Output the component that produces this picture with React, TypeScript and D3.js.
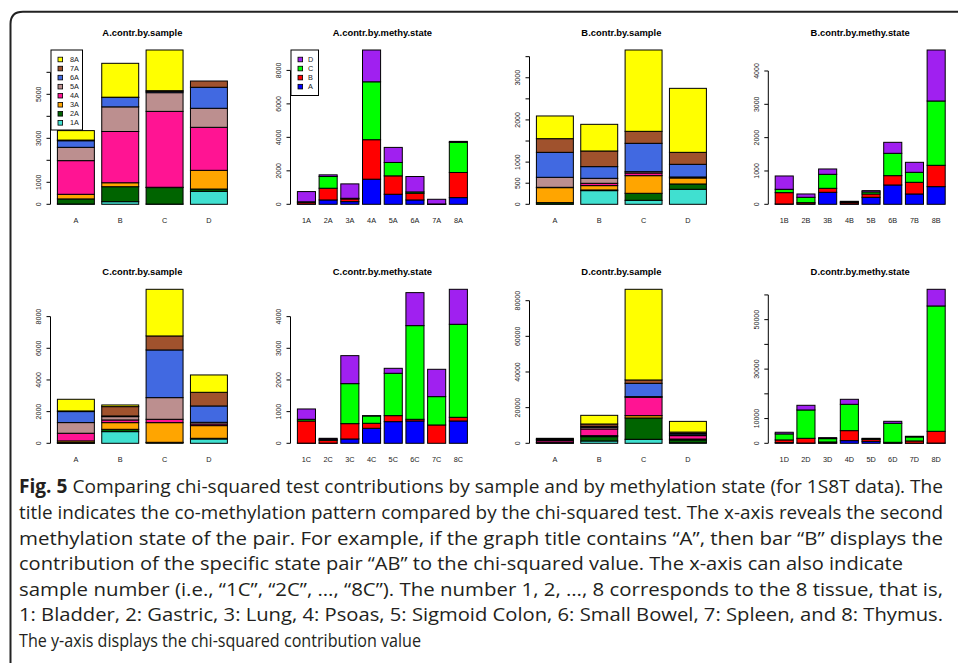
import React from "react";
import * as d3 from "d3";

// samples (x-axis of the "by.sample" panels) and stacked tissue states 1..8
const samples = ["A", "B", "C", "D"];
const tissueColors = ["#40E0D0", "#006400", "#FFA500", "#FF1493", "#BC8F8F", "#4169E1", "#A0522D", "#FFFF00"];
// methylation states stacked in the "by.methy.state" panels
const methyStates = ["A", "B", "C", "D"];
const methyColors = ["#0000FF", "#FF0000", "#00FF00", "#A020F0"];

// A.contr.by.sample: one row per bar (A..D), values for 1A..8A from bottom
const aBySample = [
  [15, 230, 210, 1530, 605, 300, 30, 430],
  [120, 680, 180, 2330, 1120, 425, 15, 1540],
  [10, 750, 15, 3450, 850, 60, 30, 1850],
  [590, 105, 850, 1955, 865, 955, 285, 0],
];
// A.contr.by.methy.state: one row per bar (1A..8A), values for A, B, C, D
const aByState = [
  [20, 100, 30, 610],
  [260, 700, 700, 100],
  [160, 160, 40, 860],
  [1500, 2360, 3460, 1900],
  [600, 1100, 800, 900],
  [260, 400, 80, 920],
  [5, 10, 5, 280],
  [400, 1500, 1800, 60],
];
const bBySample = [
  [5, 35, 355, 8, 237, 592, 324, 538],
  [324, 16, 103, 55, 118, 277, 371, 632],
  [95, 166, 418, 63, 32, 672, 284, 1928],
  [356, 126, 142, 16, 8, 300, 284, 1517],
];
const bByState = [
  [10, 340, 100, 400],
  [10, 40, 160, 100],
  [360, 120, 420, 160],
  [10, 40, 20, 20],
  [210, 100, 60, 40],
  [580, 280, 670, 330],
  [310, 350, 300, 300],
  [530, 640, 1930, 1530],
];
const cBySample = [
  [5, 40, 105, 485, 673, 695, 40, 737],
  [737, 147, 421, 169, 210, 42, 590, 105],
  [42, 21, 1242, 211, 1368, 3011, 884, 2946],
  [274, 42, 800, 105, 105, 1032, 863, 1095],
];
const cByState = [
  [5, 700, 53, 326],
  [5, 90, 30, 33],
  [137, 484, 1263, 884],
  [474, 158, 231, 10],
  [684, 190, 1337, 157],
  [705, 53, 2958, 1042],
  [0, 579, 895, 863],
  [705, 116, 2937, 1105],
];
const dBySample = [
  [100, 300, 200, 900, 500, 100, 400, 300],
  [1300, 2430, 560, 3740, 935, 560, 1310, 4860],
  [2240, 11970, 1310, 10290, 370, 7480, 1870, 50860],
  [300, 1600, 500, 1900, 500, 700, 800, 6000],
];
const dByState = [
  [270, 1100, 2426, 674],
  [100, 1922, 11458, 1887],
  [100, 440, 1348, 405],
  [1078, 4044, 10649, 2023],
  [809, 809, 135, 270],
  [100, 300, 7684, 809],
  [50, 900, 1617, 270],
  [100, 4750, 50685, 6740],
];

// y ticks and the labels R actually printed (overlapping ones are dropped)
const aSampleTicks = [0, 1000, 2000, 3000, 4000, 5000, 6000];
const aSampleLabels = [0, 1000, 3000, 5000];
const aStateTicks = [0, 2000, 4000, 6000, 8000];
const bSampleTicks = [0, 500, 1000, 1500, 2000, 2500, 3000, 3500];
const bSampleLabels = [0, 500, 1000, 2000, 3000];
const bStateTicks = [0, 1000, 2000, 3000, 4000];
const cSampleTicks = [0, 2000, 4000, 6000, 8000];
const cStateTicks = [0, 1000, 2000, 3000, 4000];
const dSampleTicks = [0, 20000, 40000, 60000, 80000];
const dStateTicks = [0, 10000, 20000, 30000, 40000, 50000, 60000];
const dStateLabels = [0, 10000, 30000, 50000];

const captionLines = [
  " Comparing chi-squared test contributions by sample and by methylation state (for 1S8T data). The",
  "title indicates the co-methylation pattern compared by the chi-squared test. The x-axis reveals the second",
  "methylation state of the pair. For example, if the graph title contains \u201CA\u201D, then bar \u201CB\u201D displays the",
  "contribution of the specific state pair \u201CAB\u201D to the chi-squared value. The x-axis can also indicate",
  "sample number (i.e., \u201C1C\u201D, \u201C2C\u201D, \u2026, \u201C8C\u201D). The number 1, 2, \u2026, 8 corresponds to the 8 tissue, that is,",
  "1: Bladder, 2: Gastric, 3: Lung, 4: Psoas, 5: Sigmoid Colon, 6: Small Bowel, 7: Spleen, and 8: Thymus.",
  "The y-axis displays the chi-squared contribution value",
];
const captionWidths = [924, 924, 924, 884, 924, 924, 402];

const W = 958;
const H = 663;
const colLeft = [50.5, 290.5, 529.5, 768.3]; // y-axis position of each column
const rowBase = [204.3, 443.3]; // y of value 0
const rowTop = [50, 289.3]; // y of the tallest bar
const font = "'Liberation Sans', Arial, Helvetica, sans-serif";

type PanelProps = {
  title: string;
  cats: string[];
  values: number[][];
  colors: string[];
  ticks: number[];
  labels?: number[];
  col: number;
  row: number;
  legend?: { names: string[]; width: number; height: number; textDx: number };
};

function Panel({ title, cats, values, colors, ticks, labels, col, row, legend }: PanelProps) {
  const axisX = colLeft[col];
  const left = axisX + 6.9;
  const x = d3.scaleBand<string>().domain(cats).range([left, left + 170]).paddingInner(0.2 / 1.2).paddingOuter(0);
  const maxTotal = d3.max(values, (v) => d3.sum(v)) as number;
  const y = d3.scaleLinear().domain([0, maxTotal]).range([rowBase[row], rowTop[row]]);
  const keys = d3.range(colors.length);
  const series = d3.stack<number[], number>().keys(keys).value((d, k) => d[k])(values);
  const shown = labels ?? ticks;
  const labelY = row === 0 ? 222.6 : 462;
  const titleY = row === 0 ? 36 : 274.5;

  return (
    <g>
      <text x={left + 85} y={titleY} textAnchor="middle" fontSize={9.4} fontWeight="bold" fontFamily={font}>
        {title}
      </text>
      {series.map((s, i) => (
        <g key={i} fill={colors[i]}>
          {s.map((d, j) => (
            <rect
              key={j}
              x={x(cats[j])}
              y={y(d[1])}
              width={x.bandwidth()}
              height={Math.max(0, y(d[0]) - y(d[1]))}
              stroke="#000"
              strokeWidth={1}
            />
          ))}
        </g>
      ))}
      <line x1={axisX} x2={axisX} y1={y(ticks[0])} y2={y(ticks[ticks.length - 1])} stroke="#000" strokeWidth={1} />
      {ticks.map((t) => (
        <line key={t} x1={axisX - 4} x2={axisX} y1={y(t)} y2={y(t)} stroke="#000" strokeWidth={1} />
      ))}
      {shown.map((t) => (
        <text
          key={t}
          transform={`translate(${axisX - 9.5},${y(t)}) rotate(-90)`}
          textAnchor="middle"
          fontSize={7}
          fontFamily={font}
          fill="#222"
        >
          {t}
        </text>
      ))}
      {cats.map((c) => (
        <text key={c} x={(x(c) as number) + x.bandwidth() / 2} y={labelY} textAnchor="middle" fontSize={7.3} fontFamily={font} fill="#222">
          {c}
        </text>
      ))}
      {legend && (
        <g transform={`translate(${axisX + 0.5},50)`}>
          <rect x={0} y={0} width={legend.width} height={legend.height} fill="#fff" stroke="#000" strokeWidth={1} />
          {legend.names.map((n, i) => (
            <g key={n} transform={`translate(0,${9.5 + i * 9.05})`}>
              <rect x={7} y={-2.3} width={4.6} height={4.6} fill={colors[legend.names.length - 1 - i]} stroke="#000" strokeWidth={0.8} />
              <text x={legend.textDx} y={2.6} fontSize={7.3} fontFamily={font} fill="#222">
                {n}
              </text>
            </g>
          ))}
        </g>
      )}
    </g>
  );
}

const stateCats = (s: string) => d3.range(1, 9).map((i) => `${i}${s}`);

export default function App() {
  const captionY = [493, 519, 544.5, 570, 595.5, 621, 646.5];
  return (
    <svg width={W} height={H} style={{ position: "absolute", left: 0, top: 0, background: "#fff" }}>
      <rect width={W} height={H} fill="#fff" />
      <path d={`M10.5,${H + 5} L10.5,24 Q10.5,11.7 23,11.7 L${W + 5},11.7`} fill="none" stroke="#222" strokeWidth={2} />

      <Panel
        title="A.contr.by.sample"
        cats={samples}
        values={aBySample}
        colors={tissueColors}
        ticks={aSampleTicks}
        labels={aSampleLabels}
        col={0}
        row={0}
        legend={{ names: stateCats("A").slice().reverse(), width: 31.5, height: 80, textDx: 19 }}
      />
      <Panel
        title="A.contr.by.methy.state"
        cats={stateCats("A")}
        values={aByState}
        colors={methyColors}
        ticks={aStateTicks}
        col={1}
        row={0}
        legend={{ names: methyStates.slice().reverse(), width: 27.5, height: 45.5, textDx: 17 }}
      />
      <Panel title="B.contr.by.sample" cats={samples} values={bBySample} colors={tissueColors} ticks={bSampleTicks} labels={bSampleLabels} col={2} row={0} />
      <Panel title="B.contr.by.methy.state" cats={stateCats("B")} values={bByState} colors={methyColors} ticks={bStateTicks} col={3} row={0} />

      <Panel title="C.contr.by.sample" cats={samples} values={cBySample} colors={tissueColors} ticks={cSampleTicks} col={0} row={1} />
      <Panel title="C.contr.by.methy.state" cats={stateCats("C")} values={cByState} colors={methyColors} ticks={cStateTicks} col={1} row={1} />
      <Panel title="D.contr.by.sample" cats={samples} values={dBySample} colors={tissueColors} ticks={dSampleTicks} col={2} row={1} />
      <Panel title="D.contr.by.methy.state" cats={stateCats("D")} values={dByState} colors={methyColors} ticks={dStateTicks} labels={dStateLabels} col={3} row={1} />

      <g fontFamily="'Liberation Sans Narrow', 'Open Sans', 'Liberation Sans', sans-serif" fontSize={19} fill="#231f20">
        {captionLines.map((line, i) => (
          <text key={i} x={19} y={captionY[i]} textLength={captionWidths[i]} lengthAdjust="spacingAndGlyphs">
            {i === 0 && <tspan fontWeight="bold">Fig. 5</tspan>}
            {line}
          </text>
        ))}
      </g>
    </svg>
  );
}
